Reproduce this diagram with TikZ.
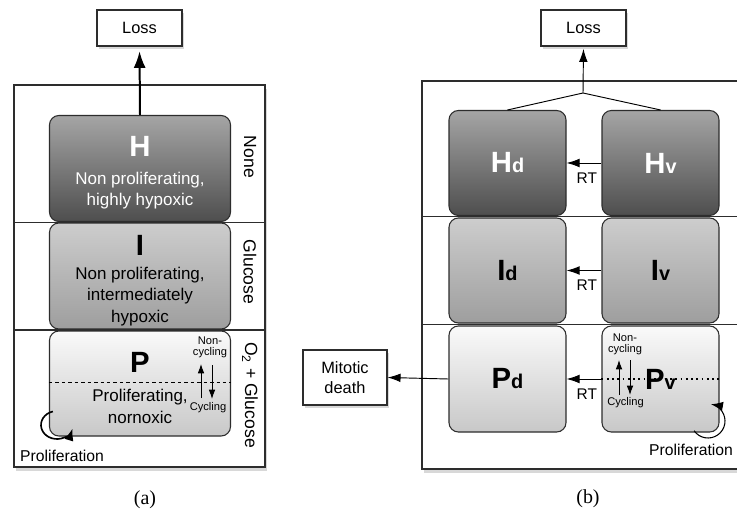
\documentclass[tikz,border=0pt]{standalone}
\usepackage{fontspec}
\setmainfont{Liberation Sans}
\newfontfamily\capfont{Liberation Serif}
\usetikzlibrary{arrows.meta,positioning,calc,fit,shadows}
\definecolor{Ink}{RGB}{45,45,45}
\definecolor{HTop}{RGB}{165,165,165}
\definecolor{HBot}{RGB}{78,78,78}
\definecolor{ITop}{RGB}{205,205,205}
\definecolor{IBot}{RGB}{158,158,158}
\definecolor{PTop}{RGB}{250,250,250}
\definecolor{PBot}{RGB}{200,200,200}
\newcommand\cellname[2]{{\fontsize{25}{25}\selectfont\bfseries #1{\fontsize{17}{17}\selectfont #2}}}
\tikzset{
  >=Latex,
  cell/.style={draw=Ink,line width=0.9pt,rounded corners=8pt,align=center,inner sep=0pt},
  celltext/.style={align=center,inner sep=0pt,font=\fontsize{14.5}{18.5}\selectfont},
  hypo/.style={cell,top color=HTop,bottom color=HBot,text=white},
  inter/.style={cell,top color=ITop,bottom color=IBot},
  normo/.style={cell,top color=PTop,bottom color=PBot},
  wideA/.style={minimum width=5.43cm,minimum height=3.18cm},
  narrowB/.style={minimum width=3.51cm,minimum height=3.15cm},
  outbox/.style={draw=Ink,line width=0.9pt,fill=white,align=center,inner sep=0pt,font=\fontsize{14}{17}\selectfont,drop shadow={opacity=.3,shadow xshift=1.5pt,shadow yshift=-2.5pt}},
  panel/.style={draw=Ink,line width=1pt,fill=white,inner sep=0pt,drop shadow={opacity=.3,shadow xshift=2pt,shadow yshift=-3pt}},
  rowline/.style={draw=Ink,line width=0.9pt},
  side/.style={rotate=-90,font=\fontsize{15}{15}\selectfont,inner sep=0pt},
  tinytxt/.style={font=\fontsize{9.5}{9.5}\selectfont,align=center,inner sep=0pt},
  prolif/.style={font=\fontsize{13.4}{13.4}\selectfont,inner sep=0pt},
  rtlab/.style={font=\fontsize{13.2}{13.2}\selectfont,inner sep=0pt},
  caption/.style={font=\capfont\fontsize{17}{17}\selectfont},
  lossarrow/.style={-{Latex[length=5mm,width=3.6mm]},line width=1.7pt,draw=black,shorten >=4pt},
  rtarrow/.style={-{Latex[length=3.9mm,width=2.6mm]},line width=0.8pt,draw=black},
  cyclearrow/.style={-{Latex[length=2.8mm,width=2mm]},line width=0.75pt,draw=black},
  loop/.style={-{Latex[length=3.6mm,width=2.8mm]},line width=1.4pt,draw=black}
}
\begin{document}
\begin{tikzpicture}[x=0.03cm,y=-0.03cm]
  \useasboundingbox (0,0) rectangle (737,517);
  \fill[white] (0,0) rectangle (737,517);
  \clip (0,0) rectangle (737,517);

  % panel (a)
  \node[panel,fit={(14,85) (265,467)}] (panelA) {};
  \node[outbox,minimum width=2.55cm,minimum height=1.08cm] (lossA) at (139.5,28) {Loss};
  \node[hypo,wideA] (Ha) at (140,168.5) {};
  \node[inter,wideA] (Ia) at (140,276) {};
  \node[normo,wideA,minimum height=3.15cm] (Pa) at (140,383.5) {};
  \node[celltext,text=white] (HaTxt) at (140,173) {\cellname{H}{}\\[5pt]Non proliferating,\\highly hypoxic};
  \node[celltext] (IaTxt) at (140,280.5) {\cellname{I}{}\\[2pt]Non proliferating,\\intermediately\\hypoxic};
  \node[celltext] (PaTxt) at (140,388) {\cellname{P}{}\\[6pt]Proliferating,\\nornoxic};
  \coordinate (rowA1) at ($(Ha.south)!.5!(Ia.north)$);
  \coordinate (rowA2) at ($(Ia.south)!.5!(Pa.north)$);
  \draw[rowline] (panelA.west |- rowA1) -- (panelA.east |- rowA1);
  \draw[rowline] (panelA.west |- rowA2) -- (panelA.east |- rowA2);
  \draw[dash pattern=on 3pt off 2.5pt,line width=0.9pt] ([yshift=1.2pt]Pa.west) -- ([yshift=1.2pt]Pa.east);
  \draw[lossarrow] (Ha.north) -- (lossA.south);
  \node[side] (noneA) at (250,157) {None};
  \node[side] (glucA) at (250,272) {Glucose};
  \node[side] (oxyA) at (250,395) {O\textsubscript{2} + Glucose};
  \node[tinytxt] (noncycA) at (210,347) {Non-\\cycling};
  \node[tinytxt] (cycA) at (208,408) {Cycling};
  \coordinate (upA1) at (201,398);
  \coordinate (upA2) at (201,364);
  \coordinate (dnA1) at (212,365);
  \coordinate (dnA2) at (212,399);
  \draw[cyclearrow] (upA1) -- (upA2);
  \draw[cyclearrow] (dnA1) -- (dnA2);
  \coordinate (loopA) at (57,425);
  \draw[loop] ([shift={(-105:16 and 14)}]loopA) arc[start angle=-105,end angle=-345,x radius=16,y radius=14];
  \node[prolif] (prolA) at (62,456) {Proliferation};
  \node[caption] (capA) at (145,500) {(a)};

  % panel (b)
  \node[panel,fit={(422,81) (760,469)}] (panelB) {};
  \node[outbox,minimum width=2.55cm,minimum height=1.08cm] (lossB) at (583.5,28) {Loss};
  \node[outbox,minimum width=2.52cm,minimum height=1.65cm] (mitotic) at (345,377.5) {Mitotic\\death};
  \node[hypo,narrowB] (Hd) at (507.5,163) {\cellname{H}{d}};
  \node[hypo,narrowB] (Hv) at (660.5,163) {\cellname{H}{v}};
  \node[inter,narrowB] (Id) at (507.5,270.5) {\cellname{I}{d}};
  \node[inter,narrowB] (Iv) at (660.5,270.5) {\cellname{I}{v}};
  \node[normo,narrowB,minimum height=3.18cm] (Pd) at (507.5,379) {\cellname{P}{d}};
  \node[normo,narrowB,minimum height=3.18cm] (Pv) at (660.5,379) {\cellname{P}{v}};
  \coordinate (rowB1) at ($(Hd.south)!.5!(Id.north)$);
  \coordinate (rowB2) at ($(Id.south)!.5!(Pd.north)$);
  \draw[rowline] (panelB.west |- rowB1) -- (panelB.east |- rowB1);
  \draw[rowline] (panelB.west |- rowB2) -- (panelB.east |- rowB2);
  \coordinate (join) at (583,93);
  \draw[line width=0.8pt] (Hd.north) -- (join) -- (Hv.north);
  \draw[rtarrow,shorten >=2pt] (join) -- (lossB.south);
  \draw[rtarrow] (Hv.west) -- node[rtlab,pos=.42,below=8pt] (rtH) {RT} (Hd.east);
  \draw[rtarrow] (Iv.west) -- node[rtlab,pos=.42,below=8pt] (rtI) {RT} (Id.east);
  \draw[dash pattern=on 1.5pt off 3pt,line width=1pt] (Pv.west) -- (Pv.east);
  \draw[rtarrow] (Pv.west) -- node[rtlab,pos=.42,below=8pt] (rtP) {RT} (Pd.east);
  \draw[rtarrow] (Pd.west) -- (mitotic.east);
  \node[tinytxt] (noncycB) at (625,344) {Non-\\cycling};
  \node[tinytxt] (cycB) at (625.5,403) {Cycling};
  \coordinate (upB1) at (619,395);
  \coordinate (upB2) at (619,360);
  \coordinate (dnB1) at (630,360);
  \coordinate (dnB2) at (630,395);
  \draw[cyclearrow] (upB1) -- (upB2);
  \draw[cyclearrow] (dnB1) -- (dnB2);
  \coordinate (loopB) at (708,421);
  \draw[loop,line width=0.9pt] ([shift={(-215:17)}]loopB) arc[start angle=-215,end angle=-440,radius=17];
  \node[prolif] (prolB) at (691,450) {Proliferation};
  \node[caption] (capB) at (588,499) {(b)};
\end{tikzpicture}
\end{document}
